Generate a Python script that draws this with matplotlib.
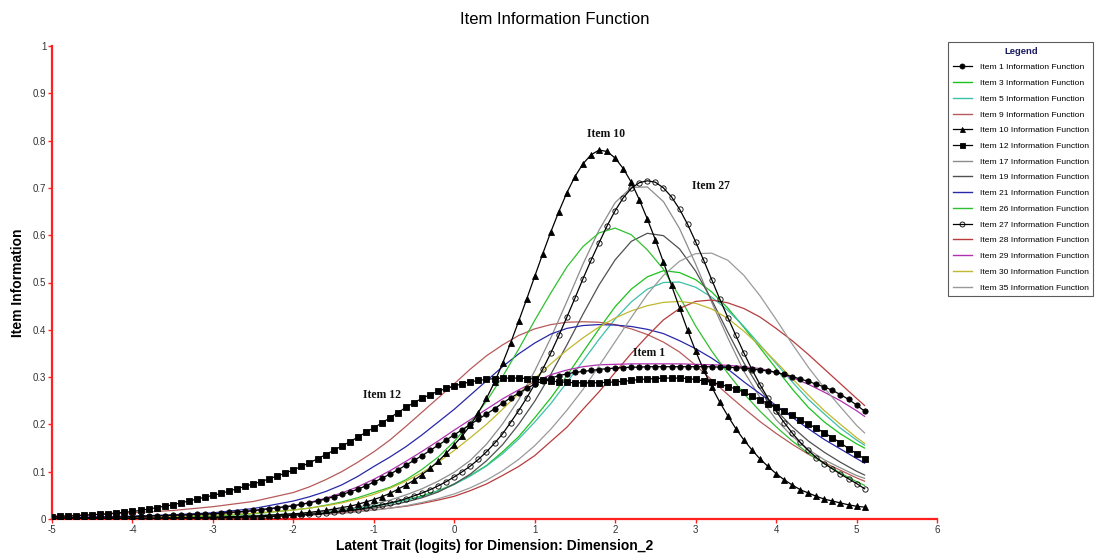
import numpy as np
import matplotlib
matplotlib.use('Agg')
import matplotlib.pyplot as plt
from matplotlib.lines import Line2D

plt.rcParams['font.family'] = ['Liberation Sans', 'DejaVu Sans']
plt.rcParams['axes.unicode_minus'] = False

# theta grid for the marker series (step 0.1)
theta_fine = np.round(np.linspace(-5.0, 5.1, 102), 1)

item1 = [.002, .002, .003, .003, .003, .003, .004, .004, .004, .005,
         .005, .006, .006, .007, .007, .008, .008, .009, .010, .011,
         .011, .012, .014, .015, .016, .018, .020, .022, .024, .026,
         .028, .031, .034, .038, .042, .047, .052, .057, .063, .070,
         .078, .086, .095, .104, .114, .124, .134, .145, .156, .167,
         .178, .189, .200, .211, .222, .233, .245, .256, .266, .276,
         .285, .292, .298, .303, .307, .310, .312, .314, .316, .318,
         .319, .320, .321, .321, .322, .322, .322, .322, .322, .322,
         .322, .322, .322, .321, .321, .320, .319, .317, .315, .313,
         .310, .306, .301, .296, .291, .285, .279, .272, .263, .253,
         .241, .228]

item10 = [.001, .001, .001, .001, .001, .001, .001, .001, .002, .002,
          .002, .002, .002, .002, .002, .002, .003, .003, .003, .003,
          .004, .004, .005, .005, .006, .006, .007, .008, .009, .010,
          .011, .012, .014, .016, .018, .021, .024, .027, .031, .036,
          .041, .047, .054, .063, .072, .082, .094, .107, .122, .139,
          .157, .176, .198, .225, .255, .289, .329, .372, .418, .465,
          .513, .561, .607, .650, .690, .724, .751, .770, .780, .777,
          .763, .741, .712, .675, .634, .590, .543, .494, .446, .399,
          .355, .315, .279, .247, .218, .191, .167, .146, .127, .111,
          .096, .083, .072, .062, .055, .048, .042, .038, .034, .030,
          .027, .025]

item12 = [.005, .006, .006, .007, .008, .009, .010, .011, .013, .014,
          .016, .018, .021, .024, .027, .030, .034, .038, .042, .046,
          .050, .054, .059, .064, .069, .074, .079, .085, .091, .097,
          .104, .111, .119, .127, .136, .145, .154, .163, .173, .183,
          .193, .203, .214, .225, .236, .246, .255, .263, .270, .276,
          .281, .286, .290, .293, .295, .297, .298, .298, .298, .297,
          .296, .294, .292, .290, .289, .288, .288, .288, .288, .289,
          .290, .291, .293, .295, .296, .297, .298, .298, .298, .297,
          .295, .292, .289, .285, .280, .275, .268, .260, .252, .244,
          .236, .228, .219, .210, .201, .192, .182, .172, .161, .149,
          .138, .127]

item27 = [.000, .000, .001, .001, .001, .001, .001, .001, .001, .001,
          .001, .001, .001, .001, .002, .002, .002, .002, .002, .002,
          .002, .003, .003, .003, .004, .004, .005, .005, .006, .007,
          .008, .009, .010, .011, .012, .014, .016, .018, .020, .023,
          .026, .030, .034, .038, .043, .049, .055, .062, .070, .079,
          .089, .100, .112, .126, .142, .160, .180, .204, .229, .256,
          .285, .317, .351, .388, .427, .467, .508, .547, .584, .620,
          .652, .679, .699, .711, .715, .712, .700, .681, .655, .623,
          .586, .547, .506, .465, .426, .388, .351, .316, .284, .255,
          .228, .204, .182, .162, .145, .130, .117, .106, .095, .085,
          .075, .064]

# theta grid for the plain line series
theta = [-5.0, -4.5, -4.0, -3.5, -3.0, -2.5,
         -2.0, -1.8, -1.6, -1.4, -1.2, -1.0, -0.8, -0.6, -0.4, -0.2,
         0.0, 0.2, 0.4, 0.6, 0.8, 1.0, 1.2, 1.4, 1.6, 1.8,
         2.0, 2.2, 2.4, 2.6, 2.8, 3.0, 3.2, 3.4, 3.6, 3.8,
         4.0, 4.2, 4.4, 4.6, 4.8, 5.0, 5.1]

item3 = [.001, .001, .002, .002, .004, .006,
         .010, .012, .015, .018, .022, .027, .033, .040, .049, .060,
         .074, .092, .113, .142, .174, .214, .256, .303, .353, .402,
         .449, .486, .512, .525, .521, .506, .480, .446, .405, .362,
         .318, .275, .236, .205, .180, .159, .150]
item5 = [.001, .001, .002, .003, .004, .007,
         .011, .013, .016, .019, .023, .028, .033, .040, .047, .059,
         .073, .091, .112, .138, .169, .205, .244, .289, .334, .380,
         .423, .459, .486, .500, .501, .490, .469, .441, .407, .368,
         .329, .290, .253, .222, .192, .167, .156]
item9 = [.006, .009, .013, .018, .026, .037,
         .056, .068, .083, .100, .120, .142, .167, .196, .226, .256,
         .286, .317, .345, .368, .388, .402, .411, .416, .417, .416,
         .411, .402, .390, .374, .353, .325, .294, .263, .234, .206,
         .181, .158, .137, .119, .103, .087, .080]
item17 = [.000, .001, .001, .002, .003, .006,
          .010, .013, .016, .020, .025, .032, .040, .051, .064, .080,
          .099, .124, .158, .201, .252, .313, .383, .460, .539, .611,
          .669, .701, .702, .671, .614, .539, .458, .383, .312, .257,
          .210, .175, .147, .125, .108, .092, .086]
item19 = [.000, .001, .001, .002, .003, .005,
          .008, .010, .012, .015, .019, .023, .029, .036, .045, .057,
          .074, .095, .123, .157, .200, .249, .306, .368, .433, .495,
          .548, .587, .604, .599, .571, .524, .463, .395, .330, .275,
          .230, .195, .165, .141, .120, .101, .093]
item21 = [.003, .004, .006, .009, .013, .022,
          .038, .047, .058, .072, .090, .111, .131, .153, .178, .205,
          .232, .262, .292, .322, .349, .372, .391, .403, .409, .411,
          .410, .407, .401, .392, .377, .360, .340, .317, .290, .265,
          .240, .215, .191, .168, .148, .128, .118]
item26 = [.001, .001, .002, .004, .006, .011,
          .019, .023, .029, .036, .045, .056, .067, .083, .105, .131,
          .164, .204, .249, .301, .359, .420, .478, .533, .576, .605,
          .615, .601, .569, .528, .470, .408, .355, .308, .265, .228,
          .195, .165, .139, .117, .097, .079, .071]
item28 = [.001, .001, .001, .002, .003, .005,
          .008, .009, .011, .013, .016, .019, .023, .027, .033, .040,
          .048, .060, .074, .092, .111, .134, .164, .194, .232, .269,
          .310, .350, .387, .421, .445, .460, .463, .457, .445, .427,
          .403, .377, .348, .317, .286, .255, .240]
item29 = [.002, .003, .005, .007, .011, .017,
          .028, .035, .044, .055, .068, .084, .102, .122, .143, .165,
          .188, .210, .232, .254, .273, .290, .305, .315, .322, .326,
          .327, .328, .328, .328, .328, .327, .326, .325, .322, .318,
          .310, .299, .285, .268, .250, .229, .217]
item30 = [.001, .002, .003, .005, .008, .012,
          .019, .023, .028, .034, .042, .052, .065, .080, .098, .120,
          .145, .172, .200, .232, .265, .297, .328, .357, .383, .406,
          .425, .440, .451, .458, .460, .456, .444, .424, .397, .366,
          .332, .297, .262, .229, .200, .172, .160]
item35 = [.000, .001, .001, .002, .003, .004,
          .007, .008, .010, .012, .015, .019, .023, .028, .035, .043,
          .053, .066, .082, .102, .126, .155, .190, .230, .274, .324,
          .375, .426, .475, .515, .545, .561, .562, .547, .515, .472,
          .422, .370, .321, .277, .237, .198, .182]

# legend order: (label, x, y, colour, marker, marker face)
series = [
    ('Item 1 Information Function', theta_fine, item1, 'black', 'o', 'black'),
    ('Item 3 Information Function', theta, item3, '#1cc21c', None, None),
    ('Item 5 Information Function', theta, item5, '#3cc0a8', None, None),
    ('Item 9 Information Function', theta, item9, '#b85a5a', None, None),
    ('Item 10 Information Function', theta_fine, item10, 'black', '^', 'black'),
    ('Item 12 Information Function', theta_fine, item12, 'black', 's', 'black'),
    ('Item 17 Information Function', theta, item17, '#8c8c8c', None, None),
    ('Item 19 Information Function', theta, item19, '#505050', None, None),
    ('Item 21 Information Function', theta, item21, '#2828a8', None, None),
    ('Item 26 Information Function', theta, item26, '#30c030', None, None),
    ('Item 27 Information Function', theta_fine, item27, 'black', 'o', 'none'),
    ('Item 28 Information Function', theta, item28, '#b83c3c', None, None),
    ('Item 29 Information Function', theta, item29, '#b030b0', None, None),
    ('Item 30 Information Function', theta, item30, '#c0b830', None, None),
    ('Item 35 Information Function', theta, item35, '#9a9a9a', None, None),
]

fig = plt.figure(figsize=(11.1, 5.55), dpi=100)
ax = fig.add_axes([52 / 1110, 36 / 555, 885 / 1110, 473 / 555])

handles = []
for label, xs, ys, col, mk, mfc in series:
    if mk is None:
        ax.plot(xs, ys, color=col, lw=0.9, zorder=2)
        handles.append(Line2D([], [], color=col, lw=1.0, label=label))
    else:
        ms = 4.3 if mk == '^' else 3.8
        ax.plot(xs, ys, color='black', lw=0.9, marker=mk, ms=ms,
                mfc=mfc, mec='black', mew=0.6, zorder=3)
        handles.append(Line2D([], [], color='black', lw=0.9, marker=mk,
                              ms=3.6, mfc=mfc, mec='black', mew=0.6,
                              label=label))

ax.set_xlim(-5, 6)
ax.set_ylim(0, 1)
ax.set_xticks(range(-5, 7))
ax.set_yticks(np.round(np.arange(0, 1.01, 0.1), 1))
ax.set_yticklabels(['0', '0.1', '0.2', '0.3', '0.4', '0.5',
                    '0.6', '0.7', '0.8', '0.9', '1'])
ax.tick_params(direction='out', length=3, width=1, color='#ff2020',
               labelsize=7, labelcolor='#333333', pad=1)
for side in ('top', 'right'):
    ax.spines[side].set_visible(False)
for side in ('left', 'bottom'):
    ax.spines[side].set_color('#ff2020')
    ax.spines[side].set_linewidth(1.6)

ax.set_xlabel('Latent Trait (logits) for Dimension: Dimension_2',
              fontsize=10, fontweight='bold', labelpad=3)
ax.set_ylabel('Item Information', fontsize=10, fontweight='bold',
              labelpad=6)
fig.suptitle('Item Information Function', fontsize=12, y=0.978)

notes = [('Item 10', 1.89, 0.814), ('Item 27', 3.19, 0.704),
         ('Item 1', 2.42, 0.351), ('Item 12', -0.90, 0.262)]
for txt, nx, ny in notes:
    ax.text(nx, ny, txt, ha='center', va='center', fontsize=8.5,
            fontweight='bold', family=['Liberation Serif', 'DejaVu Serif'],
            color='#111111')

leg = fig.legend(handles=handles, loc='upper left',
                 bbox_to_anchor=(948 / 1110, 1 - 42 / 555),
                 fontsize=6.1, title='Legend', frameon=True, fancybox=False,
                 edgecolor='#333333', handlelength=2.3, handletextpad=0.9,
                 labelspacing=0.92, borderpad=0.55, borderaxespad=0)
leg.get_title().set_fontweight('bold')
leg.get_title().set_fontsize(6.8)
leg.get_title().set_color('#1a1a60')
leg.get_frame().set_linewidth(0.8)

fig.savefig('out.png', dpi=100)
